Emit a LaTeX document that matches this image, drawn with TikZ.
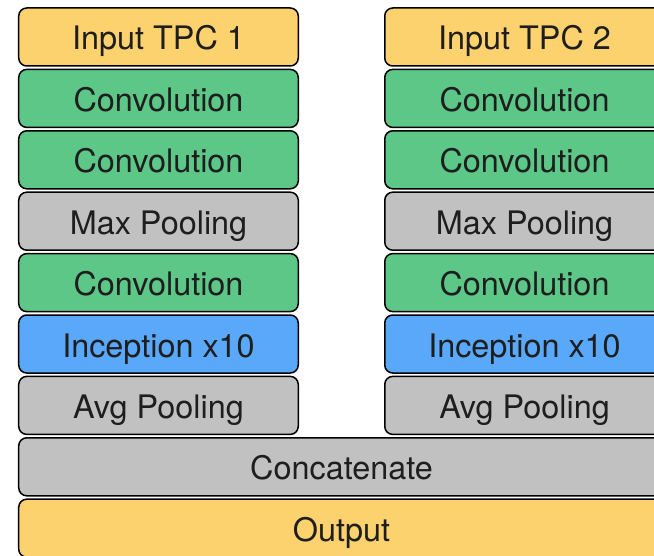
\documentclass[tikz,border=0pt]{standalone}
\usepackage{fontspec}
\setmainfont{TeX Gyre Heros}
\usetikzlibrary{positioning}

\definecolor{inyellow}{RGB}{252,210,110}
\definecolor{convgreen}{RGB}{92,199,135}
\definecolor{poolgray}{RGB}{193,193,193}
\definecolor{incblue}{RGB}{90,168,250}
\definecolor{textdark}{RGB}{30,30,30}

\begin{document}
\begin{tikzpicture}[x=1bp, y=-1bp,
		layer/.style={draw=black, line width=1.5bp, rounded corners=8bp,
			minimum width=279.5bp, minimum height=58bp, inner sep=0pt,
			text height=26bp, text depth=0bp,
			text=textdark, font=\fontsize{32.5}{34}\selectfont},
		inlayer/.style={layer, fill=inyellow},
		convlayer/.style={layer, fill=convgreen},
		poollayer/.style={layer, fill=poolgray},
		inclayer/.style={layer, fill=incblue},
		node distance=1.9bp]
	\useasboundingbox (0, 0) rectangle (654, 556);
	\clip (0, 0) rectangle (654, 556);

	% first branch
	\node[inlayer] (lin) at (158.5, 37) {Input TPC 1};
	\node[convlayer, below=of lin] (lconva) {Convolution};
	\node[convlayer, below=of lconva] (lconvb) {Convolution};
	\node[poollayer, below=of lconvb] (lmax) {Max Pooling};
	\node[convlayer, below=of lmax] (lconvc) {Convolution};
	\node[inclayer, below=of lconvc] (linc) {Inception x10};
	\node[poollayer, below=of linc] (lavg) {Avg Pooling};

	% second branch
	\node[inlayer] (rin) at (524.5, 37) {Input TPC 2};
	\node[convlayer, below=of rin] (rconva) {Convolution};
	\node[convlayer, below=of rconva] (rconvb) {Convolution};
	\node[poollayer, below=of rconvb] (rmax) {Max Pooling};
	\node[convlayer, below=of rmax] (rconvc) {Convolution};
	\node[inclayer, below=of rconvc] (rinc) {Inception x10};
	\node[poollayer, below=of rinc] (ravg) {Avg Pooling};

	% merged part
	\node[poollayer, minimum width=645.5bp, below=of lavg.south west,
		anchor=north west] (concat) {Concatenate};
	\node[inlayer, minimum width=645.5bp, below=of concat] (output) {Output};
\end{tikzpicture}
\end{document}
